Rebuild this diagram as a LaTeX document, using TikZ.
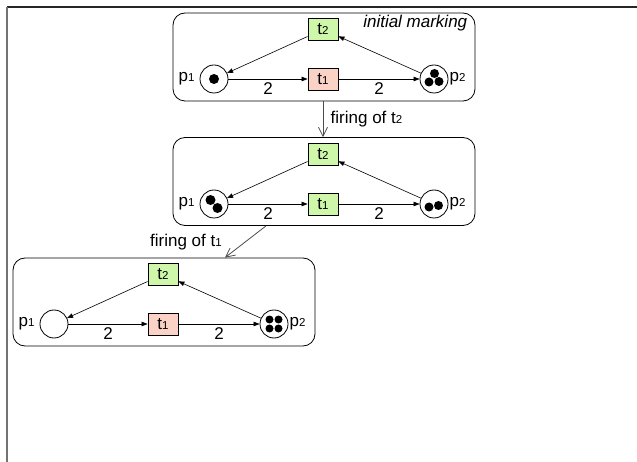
\documentclass[tikz,border=0pt]{standalone}
\usepackage{fontspec}
\setmainfont{Liberation Sans}
\usetikzlibrary{arrows.meta}
\definecolor{enabled}{RGB}{206,247,170}
\definecolor{disabled}{RGB}{250,210,198}
% small index digits for place and transition names
\newcommand\ix[1]{{\fontsize{11.5}{12}\selectfont #1}}

\begin{document}
\begin{tikzpicture}[x=1pt,y=-1pt,
  font=\fontsize{17}{20}\selectfont,
  place/.style={shape=circle,draw=black,line width=0.8pt,minimum size=28pt,inner sep=0pt},
  trans/.style={shape=rectangle,draw=black,line width=0.8pt,minimum width=30pt,minimum height=22pt,inner sep=0pt},
  marking/.style={shape=rectangle,draw=black,line width=0.8pt,rounded corners=12pt,minimum width=302pt,minimum height=88pt},
  arc/.style={-{Triangle[length=6pt,width=4.5pt]},line width=0.6pt},
  fire/.style={-{Straight Barb[length=9pt,width=9pt]},draw=black!70,line width=0.8pt}]
  \useasboundingbox (0,0) rectangle (637,462);
  \draw[line width=1.6pt,black!85] (637,7) -- (7,7);
  \draw[line width=1.6pt,black!55] (7,7) -- (7,462);

  % markings
  \node[marking] (m0) at (324,57) {};
  \node[marking] (m1) at (324,181.5) {};
  \node[marking] (m2) at (164,302) {};
  \node[anchor=north east,inner sep=0pt,font=\fontsize{17}{20}\selectfont\itshape] (init) at ([xshift=-8pt,yshift=-2pt]m0.north east) {initial marking};

  % initial marking
  \node[trans,fill=enabled] (t2a) at (323,29.5) {t\ix{2}};
  \node[trans,fill=disabled] (t1a) at (323,79) {t\ix{1}};
  \node[place] (p1a) at (214,79) {};
  \node[place] (p2a) at (434,79) {};
  \node[anchor=east,inner sep=5pt] (lp1a) at (p1a.west) {p\ix{1}};
  \node[anchor=west,inner sep=1pt] (lp2a) at (p2a.east) {p\ix{2}};
  \fill (p1a) circle (5pt);
  \fill ([xshift=0.5pt,yshift=5.5pt]p2a) circle (4.5pt);
  \fill ([xshift=-5pt,yshift=-3pt]p2a) circle (4.5pt);
  \fill ([xshift=5pt,yshift=-2.5pt]p2a) circle (4.5pt);
  \path[arc] (p1a) edge node[below] (w1a) {2} (t1a);
  \path[arc] (t1a) edge node[below] (w2a) {2} (p2a);
  \path[arc] (p2a) edge (t2a);
  \path[arc] (t2a) edge (p1a);

  % after t2
  \node[trans,fill=enabled] (t2b) at (323,154.5) {t\ix{2}};
  \node[trans,fill=enabled] (t1b) at (323,204) {t\ix{1}};
  \node[place] (p1b) at (214,204) {};
  \node[place] (p2b) at (434,204) {};
  \node[anchor=east,inner sep=5pt] (lp1b) at (p1b.west) {p\ix{1}};
  \node[anchor=west,inner sep=1pt] (lp2b) at (p2b.east) {p\ix{2}};
  \fill ([xshift=-3.5pt,yshift=4pt]p1b) circle (5pt);
  \fill ([xshift=3.5pt,yshift=-4pt]p1b) circle (5pt);
  \fill ([xshift=-5pt,yshift=-3pt]p2b) circle (4.5pt);
  \fill ([xshift=4.5pt,yshift=-1.5pt]p2b) circle (4.5pt);
  \path[arc] (p1b) edge node[below] (w1b) {2} (t1b);
  \path[arc] (t1b) edge node[below] (w2b) {2} (p2b);
  \path[arc] (p2b) edge (t2b);
  \path[arc] (t2b) edge (p1b);

  % after t1
  \node[trans,fill=enabled] (t2c) at (163,274.5) {t\ix{2}};
  \node[trans,fill=disabled] (t1c) at (163,324) {t\ix{1}};
  \node[place] (p1c) at (54,324) {};
  \node[place] (p2c) at (274,324) {};
  \node[anchor=east,inner sep=5pt] (lp1c) at (p1c.west) {p\ix{1}};
  \node[anchor=west,inner sep=1pt] (lp2c) at (p2c.east) {p\ix{2}};
  \fill ([xshift=-4.5pt,yshift=4.5pt]p2c) circle (4pt);
  \fill ([xshift=4.5pt,yshift=4.5pt]p2c) circle (4pt);
  \fill ([xshift=-4.5pt,yshift=-4.5pt]p2c) circle (4pt);
  \fill ([xshift=4.5pt,yshift=-4.5pt]p2c) circle (4pt);
  \path[arc] (p1c) edge node[below] (w1c) {2} (t1c);
  \path[arc] (t1c) edge node[below] (w2c) {2} (p2c);
  \path[arc] (p2c) edge (t2c);
  \path[arc] (t2c) edge (p1c);

  % firings
  \draw[fire] (t2a |- m0.south) -- (t2b |- m1.north) node[midway,right=4pt] (f2) {firing of t\ix{2}};
  \draw[fire] ([xshift=-58pt]m1.south) -- ([xshift=61pt]m2.north) node[midway,left=20pt] (f1) {firing of t\ix{1}};
\end{tikzpicture}
\end{document}
